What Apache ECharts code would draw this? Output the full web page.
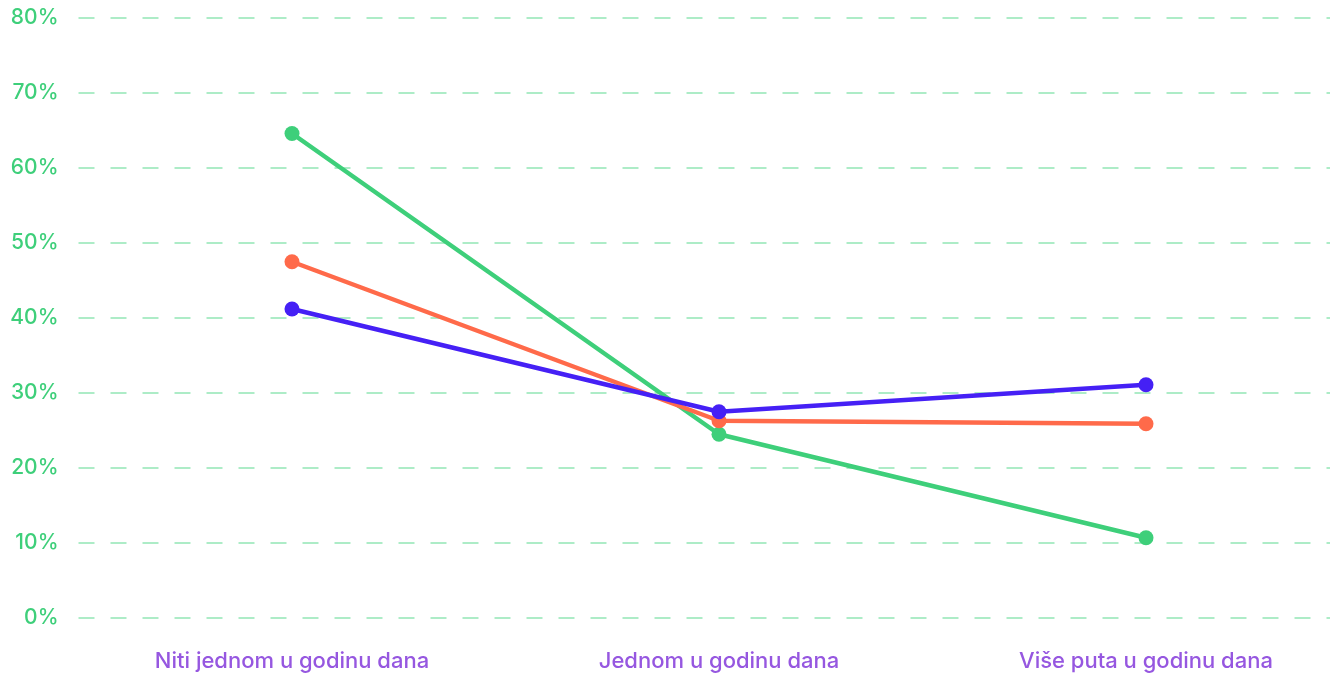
<!DOCTYPE html>
<html>
<head>
<meta charset="utf-8">
<script src="https://cdn.jsdelivr.net/npm/echarts@6/dist/echarts.min.js"></script>
<style>html,body{margin:0;padding:0;background:#fff;}#c{width:1330px;height:677px;}</style>
</head>
<body>
<div id="c"></div>
<script>
const categories = ['Niti jednom u godinu dana', 'Jednom u godinu dana', 'Više puta u godinu dana'];
const greenValues = [64.6, 24.5, 10.7];
const orangeValues = [47.5, 26.3, 25.9];
const blueValues = [41.2, 27.5, 31.1];
const yTicks = { min: 0, max: 80, interval: 10 };

const chart = echarts.init(document.getElementById('c'), null, { renderer: 'canvas' });
const font = 'Inter, "Noto Sans", sans-serif';
function line(data, color) {
  return {
    type: 'line', data: data, symbol: 'circle', symbolSize: 15,
    lineStyle: { width: 4.5, color: color }, itemStyle: { color: color },
    emphasis: { disabled: true }, animation: false
  };
}
chart.setOption({
  animation: false,
  grid: { left: 78.5, top: 18, bottom: 59, width: 1281, outerBoundsMode: 'none', containLabel: false },
  xAxis: {
    type: 'category', data: categories, boundaryGap: true,
    axisLine: { show: false }, axisTick: { show: false }, splitLine: { show: false },
    axisLabel: { color: '#9657e0', fontSize: 22, fontWeight: 500, fontFamily: font, margin: 32 }
  },
  yAxis: {
    type: 'value', min: yTicks.min, max: yTicks.max, interval: yTicks.interval,
    axisLine: { show: false }, axisTick: { show: false },
    axisLabel: { formatter: '{value}%', color: '#3ecf7a', fontSize: 21, fontWeight: 500, fontFamily: font, margin: 20 },
    splitLine: { lineStyle: { color: '#93e6b5', width: 1.5, type: [16, 16] } }
  },
  series: [
    line(greenValues, '#3ecf7a'),
    line(orangeValues, '#ff6a4a'),
    line(blueValues, '#4520f5')
  ]
});
</script>
</body>
</html>
